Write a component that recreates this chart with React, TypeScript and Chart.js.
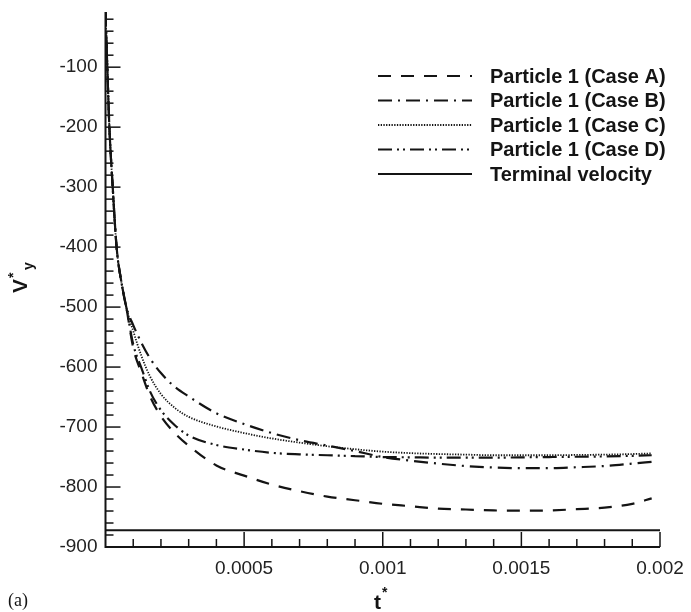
import React, { useEffect, useRef } from 'react';
import { Chart, registerables } from 'chart.js';

Chart.register(...registerables);

// ---- data ----
const tValues = [
  0, 0.000003, 0.0000065, 0.000014, 0.000026, 0.00004, 0.000058, 0.000075,
  0.0001, 0.00013, 0.00016, 0.0002, 0.00025, 0.0003, 0.0004, 0.0005, 0.0006,
  0.0007, 0.0008, 0.0009, 0.001, 0.0011, 0.0012, 0.0013, 0.0014, 0.0015,
  0.0016, 0.0017, 0.0018, 0.0019, 0.00197,
];

const caseA = [
  -8, -50, -100, -200, -300, -400, -460, -500,
  -568, -610, -648, -682, -710, -731, -764, -781, -796, -807, -816, -822,
  -828, -832, -836, -837.5, -839, -839.5, -839, -837, -834.5, -828, -819,
];

const caseB = [
  -8, -50, -100, -200, -300, -400, -460, -500,
  -530, -560, -585, -610, -633, -649, -677, -695, -710, -722, -731, -740,
  -750, -756, -761, -765, -767.5, -768.5, -768.5, -767, -765, -761, -758,
];

const caseC = [
  -8, -50, -100, -200, -300, -400, -460, -500,
  -540, -582, -615, -645, -668, -683, -699, -710, -719, -726, -732, -737,
  -741, -743.5, -745, -746, -747, -747, -747, -746.5, -746, -745, -744,
];

const caseD = [
  -8, -50, -100, -200, -300, -400, -460, -500,
  -562, -602, -640, -672, -697, -714, -730, -737.5, -743, -745.5, -747, -748.5,
  -750, -750.5, -751, -751, -751, -750.5, -750, -749.5, -749, -748, -747,
];

const tTerminal = [0, 0.002];
const terminal = [-872, -872];

const seriesLabels = [
  'Particle 1 (Case A)',
  'Particle 1 (Case B)',
  'Particle 1 (Case C)',
  'Particle 1 (Case D)',
  'Terminal velocity',
];

const xTickValues = [0, 0.0005, 0.001, 0.0015, 0.002];
const xTickLabels = ['', '0.0005', '0.001', '0.0015', '0.002'];
const yTickValues = [-900, -800, -700, -600, -500, -400, -300, -200, -100];
const yTickLabels = ['-900', '-800', '-700', '-600', '-500', '-400', '-300', '-200', '-100'];

const X_MIN = 0;
const X_MAX = 0.002;
const Y_MIN = -900;
const Y_MAX = -8;

// ---- styling ----
const W = 691;
const H = 612;
const INK = '#141414';
const SANS = '"Liberation Sans", Arial, Helvetica, sans-serif';
const dashes: number[][] = [[13, 10], [14, 6, 2, 6], [1.3, 1.4], [14, 5, 2, 4, 2, 5], []];
const widths = [2.2, 2.2, 1.8, 2.2, 2];

export default function App() {
  const ref = useRef<HTMLCanvasElement>(null);

  useEffect(() => {
    const canvas = ref.current;
    if (!canvas) return;

    const series = [caseA, caseB, caseC, caseD];
    const datasets: any[] = series.map((vals, i) => ({
      label: seriesLabels[i],
      data: tValues.map((t, j) => ({ x: t, y: vals[j] })),
      borderColor: INK,
      borderWidth: widths[i],
      borderDash: dashes[i],
      pointRadius: 0,
      fill: false,
      cubicInterpolationMode: 'monotone',
    }));
    datasets.push({
      label: seriesLabels[4],
      data: tTerminal.map((t, j) => ({ x: t, y: terminal[j] })),
      borderColor: INK,
      borderWidth: widths[4],
      borderDash: dashes[4],
      pointRadius: 0,
      fill: false,
    });

    const decor = {
      id: 'decor',
      afterDraw(chart: any) {
        const ctx: CanvasRenderingContext2D = chart.ctx;
        const xs = chart.scales.x;
        const ys = chart.scales.y;
        const left = xs.getPixelForValue(X_MIN);
        const right = xs.getPixelForValue(X_MAX);
        const bottom = ys.getPixelForValue(Y_MIN);
        const top = ys.getPixelForValue(Y_MAX);
        ctx.save();
        ctx.strokeStyle = INK;
        ctx.fillStyle = INK;
        ctx.setLineDash([]);

        // axis lines
        ctx.lineWidth = 2;
        ctx.beginPath();
        ctx.moveTo(left, top);
        ctx.lineTo(left, bottom);
        ctx.lineTo(right, bottom);
        ctx.stroke();

        // y ticks (inward), major every 100, minor every 20
        ctx.lineWidth = 1.5;
        for (let v = Y_MIN; v < Y_MAX; v += 20) {
          const y = ys.getPixelForValue(v);
          const len = v % 100 === 0 ? 15 : 8;
          ctx.beginPath();
          ctx.moveTo(left, y);
          ctx.lineTo(left + len, y);
          ctx.stroke();
        }
        // x ticks (inward), major every 0.0005, minor every 0.0001
        for (let k = 1; k <= 20; k++) {
          const x = xs.getPixelForValue(k * 0.0001);
          const len = k % 5 === 0 ? 15 : 8;
          ctx.beginPath();
          ctx.moveTo(x, bottom);
          ctx.lineTo(x, bottom - len);
          ctx.stroke();
        }

        // legend
        const rowY = [76, 100.5, 125, 149.5, 174];
        ctx.font = `bold 20px ${SANS}`;
        ctx.textBaseline = 'middle';
        ctx.textAlign = 'left';
        for (let i = 0; i < seriesLabels.length; i++) {
          ctx.lineWidth = widths[i];
          ctx.setLineDash(dashes[i]);
          ctx.beginPath();
          ctx.moveTo(378, rowY[i]);
          ctx.lineTo(472, rowY[i]);
          ctx.stroke();
          ctx.setLineDash([]);
          ctx.fillText(seriesLabels[i], 490, rowY[i] + 1);
        }

        // y axis title V*_y
        ctx.save();
        ctx.translate(27, 293);
        ctx.rotate(-Math.PI / 2);
        ctx.textBaseline = 'alphabetic';
        ctx.font = `bold 21px ${SANS}`;
        ctx.fillText('V', 0, 0);
        const vw = ctx.measureText('V').width;
        ctx.font = `bold 14px ${SANS}`;
        ctx.fillText('*', vw + 1, -9);
        ctx.fillText('y', vw + 9, 6);
        ctx.restore();

        // x axis title t*
        ctx.textBaseline = 'alphabetic';
        ctx.font = `bold 21px ${SANS}`;
        ctx.fillText('t', 374, 609);
        const tw = ctx.measureText('t').width;
        ctx.font = `bold 14px ${SANS}`;
        ctx.fillText('*', 374 + tw + 1, 597);

        // panel label
        ctx.font = `18px "Liberation Serif", "Times New Roman", serif`;
        ctx.fillText('(a)', 8, 606);

        ctx.restore();
      },
    };

    const tickFont = { family: SANS, size: 19 };

    const chart = new Chart(canvas, {
      type: 'line',
      data: { datasets },
      options: {
        responsive: false,
        animation: false,
        devicePixelRatio: 1,
        layout: { padding: { left: 0, top: 12, right: 31, bottom: 0 } },
        plugins: { legend: { display: false }, tooltip: { enabled: false } },
        scales: {
          x: {
            type: 'linear',
            min: X_MIN,
            max: X_MAX,
            grid: { display: false, drawTicks: false },
            border: { display: false },
            afterBuildTicks: (s: any) => {
              s.ticks = xTickValues.map((v) => ({ value: v }));
            },
            afterFit: (s: any) => {
              s.height = 65;
              s.paddingLeft = 0;
              s.paddingRight = 0;
            },
            ticks: {
              autoSkip: false,
              maxRotation: 0,
              padding: 10,
              color: '#222',
              font: tickFont,
              callback: (_v: any, i: number) => xTickLabels[i],
            },
          },
          y: {
            type: 'linear',
            min: Y_MIN,
            max: Y_MAX,
            grid: { display: false, drawTicks: false },
            border: { display: false },
            afterBuildTicks: (s: any) => {
              s.ticks = yTickValues.map((v) => ({ value: v }));
            },
            afterFit: (s: any) => {
              s.width = 105.5;
              s.paddingTop = 0;
              s.paddingBottom = 0;
            },
            ticks: {
              autoSkip: false,
              padding: 8,
              color: '#222',
              font: tickFont,
              callback: (_v: any, i: number) => yTickLabels[i],
            },
          },
        },
      } as any,
      plugins: [decor],
    });

    return () => chart.destroy();
  }, []);

  return (
    <div style={{ position: 'fixed', left: 0, top: 0, width: W, height: H, background: '#fff' }}>
      <canvas ref={ref} width={W} height={H} style={{ width: W, height: H, display: 'block' }} />
    </div>
  );
}
